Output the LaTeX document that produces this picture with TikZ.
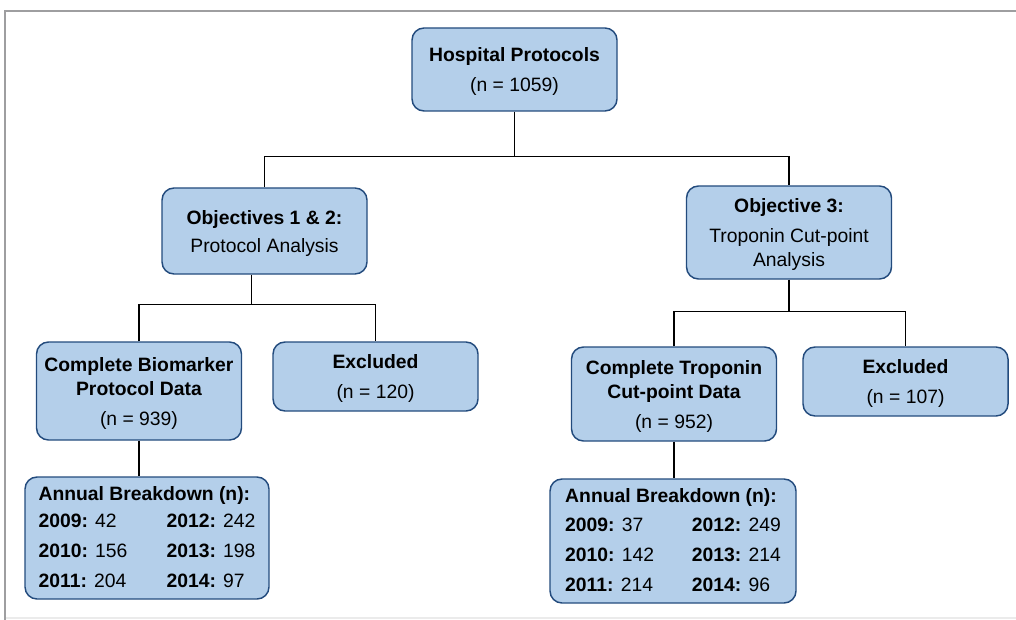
\documentclass[tikz,border=0pt]{standalone}
\usepackage{fontspec}
\setmainfont{Liberation Sans}

\definecolor{boxfill}{RGB}{180,207,234}
\definecolor{boxline}{RGB}{35,75,125}
\definecolor{framegray}{RGB}{158,158,160}

\begin{document}
\begin{tikzpicture}[x=0.75pt, y=-0.75pt, every node/.style={font=\fontsize{14.5}{18}\selectfont},
	box/.style={draw=boxline, fill=boxfill, line width=1.1pt, rounded corners=9pt, align=center, inner sep=0pt, minimum width=153.75pt},
	flowbox/.style={box, text depth=0pt},
	link/.style={line width=0.9pt}]
	\useasboundingbox (0,0) rectangle (1016,620);
	\draw[framegray, line width=2.2pt] (5,620) -- (5,11) -- (1016,11);
	\draw[black!8, line width=0.8pt] (6,618) -- (1016,618);
	\node[flowbox, minimum height=62.25pt] (hosp) at (514.5,69.5) {\textbf{Hospital Protocols}\\[4.5pt](n = 1059)};
	\node[flowbox, minimum height=64.5pt] (obj12) at (264.5,231) {\textbf{Objectives 1 \& 2:}\\[3pt]Protocol Analysis};
	\node[flowbox, minimum height=69.75pt] (obj3) at (789,232.5) {\textbf{Objective 3:}\\[4.5pt]Troponin Cut-point\\Analysis};
	\node[flowbox, minimum height=73.5pt] (bioData) at (139,391) {\textbf{Complete Biomarker}\\\textbf{Protocol Data}\\[4.5pt](n = 939)};
	\node[flowbox, minimum height=51.75pt] (excl1) at (375.5,376.5) {\textbf{Excluded}\\[4.5pt](n = 120)};
	\node[flowbox, minimum height=70.5pt] (tropData) at (674,394) {\textbf{Complete Troponin}\\\textbf{Cut-point Data}\\[4.5pt](n = 952)};
	\node[flowbox, minimum height=51.75pt] (excl2) at (905.5,381.5) {\textbf{Excluded}\\[4.5pt](n = 107)};
	\node[box, minimum width=183pt, minimum height=91.5pt] (bioYears) at (147,538) {\renewcommand{\arraystretch}{1.25}\begin{tabular}{@{}p{96pt}@{}l@{}}
		\multicolumn{2}{@{}l@{}}{\textbf{Annual Breakdown (n):}}\\[-2.25pt]
		\textbf{2009:} 42 & \textbf{2012:} 242\\
		\textbf{2010:} 156 & \textbf{2013:} 198\\
		\textbf{2011:} 204 & \textbf{2014:} 97
	\end{tabular}};
	\node[box, minimum width=184.5pt, minimum height=93pt] (tropYears) at (673,541) {\renewcommand{\arraystretch}{1.25}\begin{tabular}{@{}p{95pt}@{}l@{}}
		\multicolumn{2}{@{}l@{}}{\textbf{Annual Breakdown (n):}}\\[-1pt]
		\textbf{2009:} 37 & \textbf{2012:} 249\\
		\textbf{2010:} 142 & \textbf{2013:} 214\\
		\textbf{2011:} 214 & \textbf{2014:} 96
	\end{tabular}};
	\draw[link] (hosp.south) -- ++(0,45) coordinate (split0);
	\draw[link] (obj12.north) |- (split0) -| (obj3.north);
	\draw[link] ([xshift=-10pt]obj12.south) -- ++(0,30) coordinate (split1);
	\draw[link] (bioData.north) |- (split1) -| (excl1.north);
	\draw[link] (obj3.south) -- ++(0,32) coordinate (split2);
	\draw[link] (tropData.north) |- (split2) -| (excl2.north);
	\draw[link] (bioData.south) -- (bioData.south |- bioYears.north);
	\draw[link] (tropData.south) -- (tropData.south |- tropYears.north);
\end{tikzpicture}
\end{document}
